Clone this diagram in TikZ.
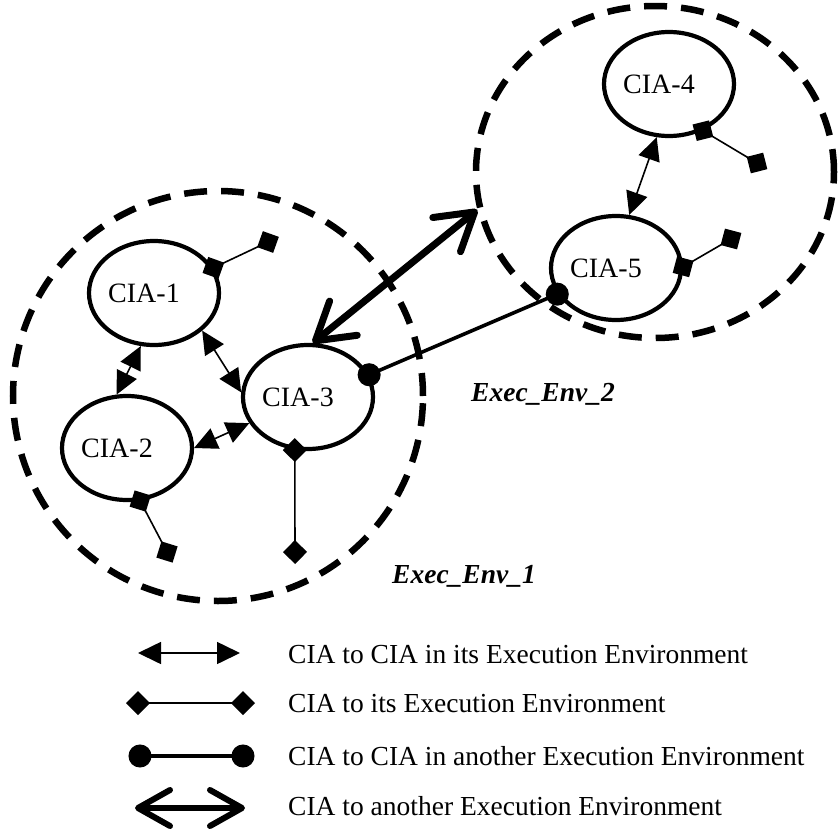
\documentclass[tikz,border=0pt]{standalone}
\usepackage{fontspec}
\setmainfont{Liberation Serif}
\usetikzlibrary{shapes.geometric,arrows.meta}
\begin{document}
\begin{tikzpicture}[x=1pt,y=-1pt,
  cia/.style={draw,ellipse,line width=4.2pt,minimum width=130pt,minimum height=104pt,inner sep=0pt},
  env/.style={draw,ellipse,line width=6.5pt,dash pattern=on 23pt off 14pt,inner sep=0pt},
  lbl/.style={font=\fontsize{28}{32}\selectfont},
  envlbl/.style={font=\fontsize{27.5}{32}\selectfont\bfseries\itshape,anchor=base west,inner sep=0pt},
  legtext/.style={font=\fontsize{27.5}{32}\selectfont,anchor=base west,inner sep=0pt},
  tri/.style={line width=1.6pt,{Triangle[length=23pt,width=22pt]}-{Triangle[length=23pt,width=22pt]}},
  dia/.style={line width=1.6pt,{Diamond[length=24pt,width=24pt]}-{Diamond[length=24pt,width=24pt]},shorten <=-12pt,shorten >=-12pt},
  circ/.style={line width=3.6pt,{Circle[length=23pt]}-{Circle[length=23pt]},shorten <=-11.5pt,shorten >=-11.5pt},
  thick2/.style={line width=7pt,line cap=round,{Straight Barb[length=36pt,width=44pt,round]}-{Straight Barb[length=36pt,width=44pt,round]}}
]
\useasboundingbox (0,0) rectangle (838,830);

% environments
\node[env,minimum width=410pt,minimum height=410pt] (env1) at (218,396) {};
\node[env,minimum width=358pt,minimum height=332pt] (env2) at (655,172) {};

% CIA nodes
\node[cia,label={[lbl,xshift=-10pt]center:CIA-1}] (c1) at (154,293) {};
\node[cia,label={[lbl,xshift=-10pt]center:CIA-2}] (c2) at (127,448) {};
\node[cia,label={[lbl,xshift=-10pt]center:CIA-3}] (c3) at (308,397) {};
\node[cia,label={[lbl,xshift=-10pt]center:CIA-4}] (c4) at (669,84) {};
\node[cia,label={[lbl,xshift=-10pt]center:CIA-5}] (c5) at (616,268) {};

% env labels
\node[envlbl] (l1) at (392,583) {Exec\_Env\_1};
\node[envlbl] (l2) at (471,401) {Exec\_Env\_2};

% CIA to CIA in its env
\draw[tri] (c1.256) -- (c2.101);
\draw[tri] (c1.322) -- (c3.176);
\draw[tri] (c2.0) -- (c3.204);
\draw[tri] (c4.257) -- (c5.76);

% CIA to its env
\coordinate (e1) at (268,242);
\coordinate (e2) at (167,552);
\coordinate (e3) at (295,552);
\coordinate (e4) at (757,163);
\coordinate (e5) at (731,239);
\draw[dia] (c1.23) -- (e1);
\draw[dia] (c2.284) -- (e2);
\draw[dia] (c3.256) -- (e3);
\draw[dia] (c4.306) -- (e4);
\draw[dia] (c5.1) -- (e5);

% CIA to CIA in another env
\draw[circ] (c3.20) -- (c5.204);

% CIA to another env
\draw[thick2] (c3.85) -- (env2.192);

% legend
\coordinate (a1) at (138,653); \coordinate (b1) at (240,653);
\coordinate (a2) at (138,703); \coordinate (b2) at (243,703);
\coordinate (a3) at (140,756); \coordinate (b3) at (243,756);
\coordinate (a4) at (135,808); \coordinate (b4) at (245,808);
\draw[tri] (a1) -- (b1);
\draw[dia] (a2) -- (b2);
\draw[circ] (a3) -- (b3);
\draw[thick2,line width=6pt,{Straight Barb[length=32pt,width=36pt,round]}-{Straight Barb[length=32pt,width=36pt,round]}] (a4) -- (b4);
\node[legtext] (t1) at (288,663) {CIA to CIA in its Execution Environment};
\node[legtext] (t2) at (288,712) {CIA to its Execution Environment};
\node[legtext] (t3) at (288,765) {CIA to CIA in another Execution Environment};
\node[legtext] (t4) at (288,815) {CIA to another Execution Environment};
\end{tikzpicture}
\end{document}
